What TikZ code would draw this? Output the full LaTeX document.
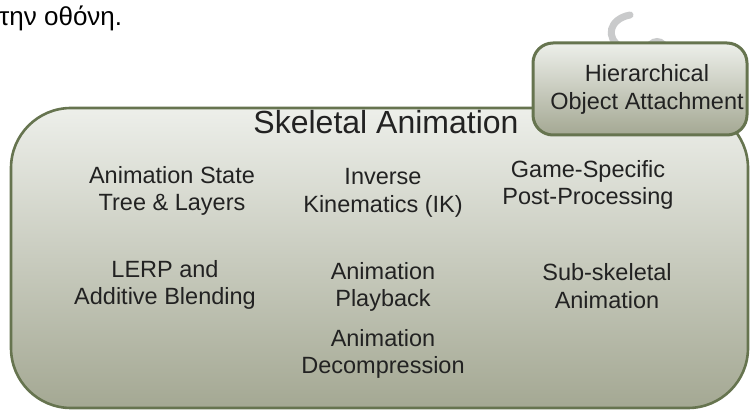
\documentclass[tikz,border=0pt]{standalone}
\usepackage{fontspec}
\setmainfont{Liberation Sans}
\usetikzlibrary{shadings}
\definecolor{edgeolive}{HTML}{66744F}
\definecolor{fillTop}{HTML}{EDEFEA}
\definecolor{fillBot}{HTML}{A4A893}
\definecolor{inkgray}{HTML}{222222}
\definecolor{logogray}{HTML}{C9CACB}
\tikzset{
  panel/.style={draw=edgeolive, line width=2.6pt, top color=fillTop, bottom color=fillBot,
    inner sep=0pt},
  item/.style={align=center, text=inkgray, inner sep=0pt,
    font=\fontsize{23.5}{27.5}\selectfont},
}
\begin{document}
\begin{tikzpicture}[x=1pt, y=-1pt]
\useasboundingbox (0,0) rectangle (750,411);

% cropped line of text above the diagram
\node[anchor=base west, inner sep=0pt, text=black, font=\fontsize{26}{30}\selectfont] (greek) at (-1,26) {την οθόνη.};

% faint logo mark behind the attachment box
\draw[logogray, line width=7pt, line cap=round] (630,15) .. controls (609,19) and (605,38) .. (621,47);
\fill[logogray] (657,50) circle (12);

% main container
\node[panel, rounded corners=60pt, minimum width=737pt, minimum height=300pt] (main) at (379.5,258) {};
\node[font=\fontsize{32}{36}\selectfont, text=inkgray, inner sep=0pt] (title) at (386,122) {Skeletal Animation};

% attachment box overlapping the top right corner
\node[panel, line width=3pt, rounded corners=20pt, minimum width=214pt, minimum height=92pt] (attach) at (640,89) {};
\node[item, font=\fontsize{23.5}{28}\selectfont] (attachtxt) at (647,89) {Hierarchical\\Object Attachment};

% components
\node[item] (state)  at (172,191) {Animation State\\Tree \& Layers};
\node[item] (ik)     at (383,193) {Inverse\\Kinematics (IK)};
\node[item] (post)   at (588,185) {Game-Specific\\Post-Processing};
\node[item] (lerp)   at (165,285) {LERP and\\Additive Blending};
\node[item] (play)   at (383,287) {Animation\\Playback};
\node[item] (sub)    at (607,286) {Sub-skeletal\\Animation};
\node[item] (decomp) at (383,354) {Animation\\Decompression};
\end{tikzpicture}
\end{document}
